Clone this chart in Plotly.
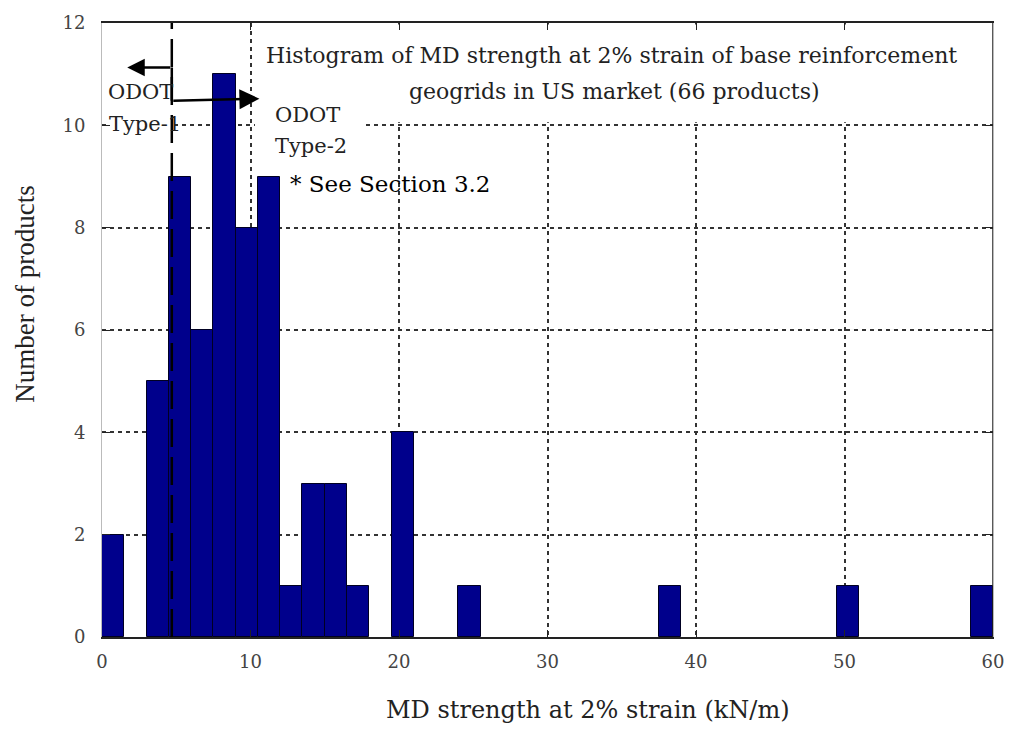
import plotly.graph_objects as go

# Histogram data (bin width 1.5 kN/m)
bin_centers = [0.75, 3.75, 5.25, 6.75, 8.25, 9.75, 11.25, 12.75, 14.25, 15.75, 17.25, 20.25, 24.75, 38.25, 50.25, 59.25]
counts = [2, 5, 9, 6, 11, 8, 9, 1, 3, 3, 1, 4, 1, 1, 1, 1]
bin_width = 1.5

x_ticks = [0, 10, 20, 30, 40, 50, 60]
y_ticks = [0, 2, 4, 6, 8, 10, 12]

odot_boundary = 4.7

title_line1 = "Histogram of MD strength at 2% strain of base reinforcement"
title_line2 = "geogrids in US market (66 products)"
x_title = "MD strength at 2% strain (kN/m)"
y_title = "Number of products"

SERIF = "DejaVu Serif"

fig = go.Figure()
fig.add_trace(go.Bar(
    x=bin_centers, y=counts, width=[bin_width] * len(counts),
    marker=dict(color="#00008C", line=dict(color="#000022", width=1)),
    showlegend=False, hoverinfo="x+y",
))

grid = dict(showgrid=True, gridcolor="#333333", gridwidth=1.5, griddash="4px,4px")

fig.update_layout(
    width=1016, height=730,
    margin=dict(l=102, r=21, t=15, b=93),
    paper_bgcolor="white", plot_bgcolor="white",
    bargap=0,
    xaxis=dict(range=[0, 60], tickvals=x_ticks, ticktext=[str(v) for v in x_ticks],
               showline=True, linecolor="#222222", linewidth=1.5, mirror="ticks",
               ticks="inside", ticklen=7, tickcolor="#222222",
               tickfont=dict(family=SERIF, size=18, color="#444444"),
               ticklabelstandoff=8, zeroline=False, **grid),
    yaxis=dict(range=[0, 12], tickvals=y_ticks, ticktext=[str(v) for v in y_ticks],
               showline=True, linecolor="#BBBBBB", linewidth=1,
               ticks="inside", ticklen=8, tickcolor="#222222", mirror="ticks",
               tickfont=dict(family=SERIF, size=18, color="#444444"),
               ticklabelstandoff=12, zeroline=False, **grid),
)

shapes = [
    # white background behind the title text
    dict(type="rect", xref="x", yref="y", x0=10.3, x1=59.95, y0=10.06, y1=11.97,
         fillcolor="white", line=dict(width=0), layer="between"),
    # white background behind ODOT Type-2 label
    dict(type="rect", xref="x", yref="y", x0=10.3, x1=17.6, y0=9.4, y1=10.1,
         fillcolor="white", line=dict(width=0), layer="between"),
    # white background behind Type-1 label
    dict(type="rect", xref="x", yref="y", x0=0.4, x1=4.6, y0=9.7, y1=10.3,
         fillcolor="white", line=dict(width=0), layer="between"),
    # right border
    dict(type="line", xref="x", yref="y", x0=60, x1=60, y0=0, y1=12,
         line=dict(color="#222222", width=1.5), layer="above"),
    # ODOT boundary (long dashed)
    dict(type="line", xref="x", yref="y", x0=odot_boundary, x1=odot_boundary, y0=0, y1=12,
         line=dict(color="black", width=2.5, dash="28px,10px"), layer="above"),
    # connector between the two arrows
    dict(type="line", xref="x", yref="y", x0=odot_boundary, x1=odot_boundary, y0=10.48, y1=11.13,
         line=dict(color="black", width=2.5), layer="above"),
]
fig.update_layout(shapes=shapes)

ann = []
# arrows
ann.append(dict(x=1.7, y=11.13, ax=odot_boundary, ay=11.13, xref="x", yref="y", axref="x", ayref="y",
                showarrow=True, arrowhead=2, arrowsize=1.4, arrowwidth=2.5, arrowcolor="black", text=""))
ann.append(dict(x=10.6, y=10.52, ax=odot_boundary, ay=10.48, xref="x", yref="y", axref="x", ayref="y",
                showarrow=True, arrowhead=2, arrowsize=1.6, arrowwidth=2.5, arrowcolor="black", text=""))
# texts
txt = dict(showarrow=False, xref="x", yref="y", font=dict(family=SERIF, size=21, color="#222222"))
ann.append(dict(x=0.25, y=10.66, text="ODOT", xanchor="left", yanchor="middle", **txt))
ann.append(dict(x=0.35, y=10.02, text="Type-1", xanchor="left", yanchor="middle", **txt))
ann.append(dict(x=11.5, y=10.21, text="ODOT", xanchor="left", yanchor="middle", **txt))
ann.append(dict(x=11.5, y=9.59, text="Type-2", xanchor="left", yanchor="middle", **txt))
ann.append(dict(x=12.55, y=8.86, text="* See Section 3.2", xanchor="left", yanchor="middle",
                showarrow=False, xref="x", yref="y", font=dict(family=SERIF, size=23, color="black")))
ann.append(dict(x=34.3, y=11.36, text=title_line1, xanchor="center", yanchor="middle",
                showarrow=False, xref="x", yref="y", font=dict(family=SERIF, size=22, color="#222222")))
ann.append(dict(x=34.5, y=10.66, text=title_line2, xanchor="center", yanchor="middle",
                showarrow=False, xref="x", yref="y", font=dict(family=SERIF, size=22, color="#222222")))
# axis titles
ann.append(dict(x=32.7, y=-(711 - 637) / 622, text=x_title, xanchor="center", yanchor="middle",
                showarrow=False, xref="x", yref="paper", font=dict(family=SERIF, size=24, color="#222222")))
ann.append(dict(x=-(102 - 25) / 893, y=(637 - 290) / 622, text=y_title, textangle=-90,
                xanchor="center", yanchor="middle", showarrow=False, xref="paper", yref="paper",
                font=dict(family="Liberation Serif", size=27, color="#222222")))
fig.update_layout(annotations=ann)

fig.write_html("out.html")
